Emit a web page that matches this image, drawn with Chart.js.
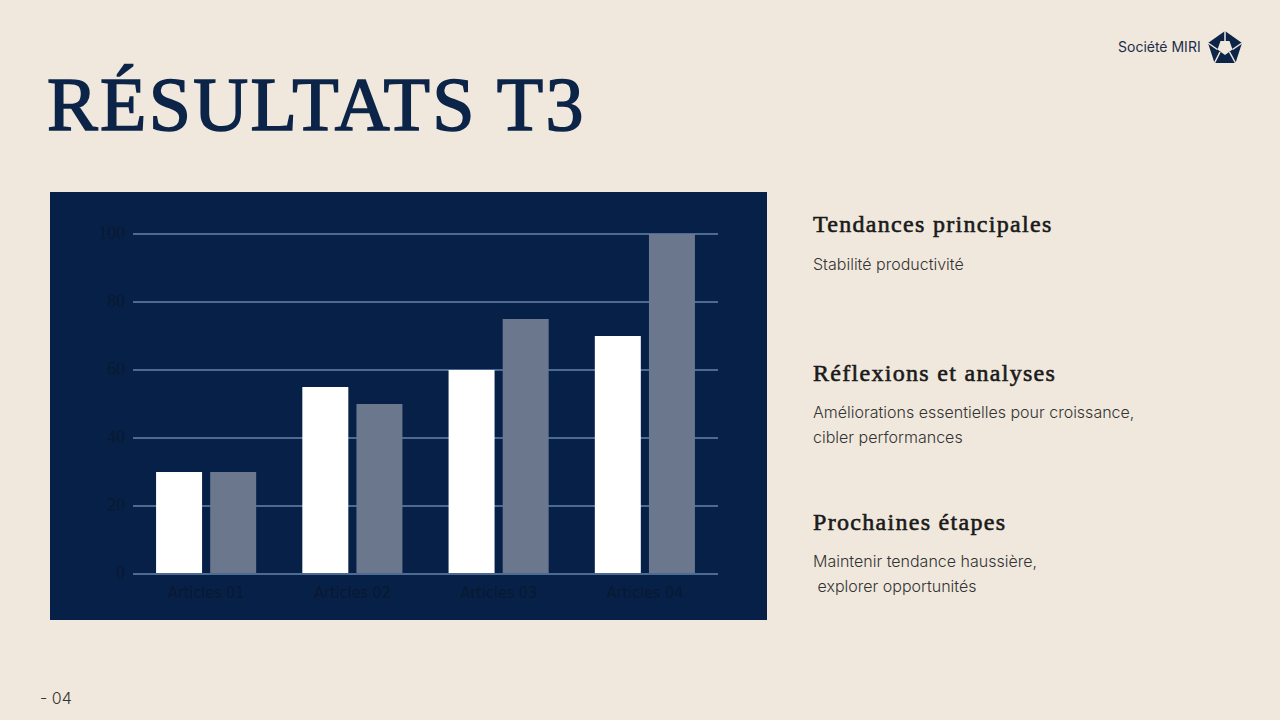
<!DOCTYPE html>
<html><head><meta charset="utf-8">
<script src="https://cdn.jsdelivr.net/npm/chart.js@4"></script>
<style>
html,body{margin:0;padding:0;}
body{width:1280px;height:720px;background:#f0e8dd;position:relative;overflow:hidden;font-family:Inter,"Open Sans",sans-serif;}
#title{position:absolute;left:47px;top:66px;font-family:"Liberation Serif","DejaVu Serif",serif;font-size:76px;color:#0c2447;-webkit-text-stroke:1.6px #0c2447;letter-spacing:2.3px;line-height:1;white-space:nowrap;}
#panel{position:absolute;left:50px;top:192px;width:717px;height:428px;background:#062047;}
#c{position:absolute;left:0;top:0;}
.h{position:absolute;left:813px;font-family:"Liberation Serif","DejaVu Serif",serif;font-size:24px;color:#1a1a1a;-webkit-text-stroke:0.6px #1a1a1a;white-space:nowrap;letter-spacing:1.3px;}
.b{position:absolute;left:813px;font-size:16px;font-weight:300;color:#333;line-height:25px;white-space:pre;}
#logoText{position:absolute;left:1118px;top:38px;font-size:14px;color:#1d2c48;white-space:nowrap;}
#logo{position:absolute;left:1207px;top:30px;}
#pg{position:absolute;left:40px;top:688px;font-size:16px;font-weight:300;color:#333;}
</style></head>
<body>
<div id="title">RÉSULTATS T3</div>
<div id="panel"><canvas id="c" width="717" height="428"></canvas></div>

<div class="h" style="top:211px">Tendances principales</div>
<div class="b" style="top:252px">Stabilité productivité</div>
<div class="h" style="top:360px">Réflexions et analyses</div>
<div class="b" style="top:400px">Améliorations essentielles pour croissance,
cibler performances</div>
<div class="h" style="top:509px">Prochaines étapes</div>
<div class="b" style="top:549px">Maintenir tendance haussière,
 explorer opportunités</div>

<div id="logoText">Société MIRI</div>
<svg id="logo" width="36" height="34" viewBox="0 0 36 34">
  <polygon points="18,1 35,13 28.5,33 7.5,33 1,13" fill="#0c2447"/>
  <polygon points="18,25 10.5,19.5 13.5,11 22.5,11 25.5,19.5" fill="#f0e8dd"/>
  <line x1="18" y1="1" x2="18" y2="11" stroke="#f0e8dd" stroke-width="1.5"/>
  <line x1="35" y1="13" x2="25.5" y2="19.5" stroke="#f0e8dd" stroke-width="1.5"/>
  <line x1="28.5" y1="33" x2="22.5" y2="22" stroke="#f0e8dd" stroke-width="1.5"/>
  <line x1="7.5" y1="33" x2="13" y2="22" stroke="#f0e8dd" stroke-width="1.5"/>
  <line x1="1" y1="13" x2="10.5" y2="19.5" stroke="#f0e8dd" stroke-width="1.5"/>
</svg>
<div id="pg">- 04</div>

<script>
const categories = ["Articles 01", "Articles 02", "Articles 03", "Articles 04"];
const seriesA = [30, 55, 60, 70];
const seriesB = [30, 50, 75, 100];
const yTicks = [0, 20, 40, 60, 80, 100];

new Chart(document.getElementById('c'), {
  type: 'bar',
  data: {
    labels: categories,
    datasets: [
      { label: 'A', data: seriesA, backgroundColor: '#ffffff', borderWidth: 0, categoryPercentage: 0.74, barPercentage: 0.85 },
      { label: 'B', data: seriesB, backgroundColor: '#6b778c', borderWidth: 0, categoryPercentage: 0.74, barPercentage: 0.85 }
    ]
  },
  options: {
    responsive: false,
    maintainAspectRatio: false,
    animation: false,
    devicePixelRatio: 1,
    layout: { padding: { top: 42, right: 49, left: 0, bottom: 0 } },
    plugins: { legend: { display: false }, tooltip: { enabled: false } },
    scales: {
      x: {
        grid: { display: false, drawTicks: false },
        border: { display: false },
        ticks: { color: '#0b1930', font: { family: 'DejaVu Sans Condensed, DejaVu Sans', size: 16 }, padding: 10, maxRotation: 0 },
        afterFit: s => { s.height = 46; }
      },
      y: {
        min: 0, max: 100,
        afterBuildTicks: s => { s.ticks = yTicks.map(v => ({ value: v })); },
        grid: { color: '#4d6a92', lineWidth: 2, drawTicks: false },
        border: { display: false },
        ticks: { color: '#0b1930', font: { family: 'Liberation Serif', size: 18 }, padding: 8 },
        afterFit: s => { s.width = 83; }
      }
    }
  }
});
</script>
</body></html>
